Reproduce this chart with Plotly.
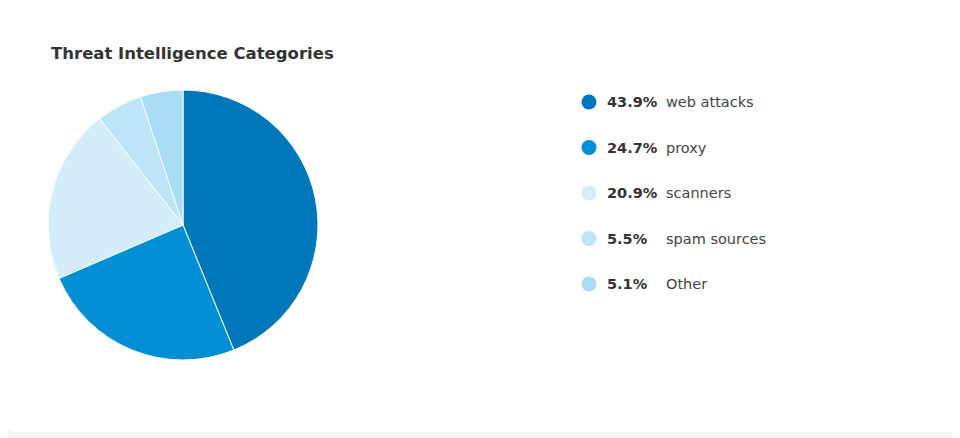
import plotly.graph_objects as go

labels = ["web attacks", "proxy", "scanners", "spam sources", "Other"]
values = [43.9, 24.7, 20.9, 5.5, 5.1]
colors = ["#0077b8", "#008fd5", "#d3edfa", "#bde5f7", "#a9dcf5"]

OFF = 8  # page body margin
W, H = 960 - OFF, 438 - OFF
FONT = "DejaVu Sans, Liberation Sans, Arial"
fig = go.Figure()
fig.add_trace(go.Pie(values=values, labels=labels, sort=False, direction="clockwise",
                     rotation=0, marker=dict(colors=colors, line=dict(color="white", width=1)),
                     textinfo="none", hoverinfo="label+percent",
                     domain=dict(x=[(48-OFF)/W, (318-OFF)/W], y=[(438-360)/H, (438-90)/H]), showlegend=False))

ys = [102 - OFF + 45.5*i for i in range(len(labels))]
fig.add_trace(go.Scatter(x=[589-OFF]*len(labels), y=ys, mode="markers",
                         marker=dict(size=15, color=colors), showlegend=False, hoverinfo="skip"))
for i, (lab, v) in enumerate(zip(labels, values)):
    fig.add_annotation(x=605-OFF, y=ys[i], xref="x", yref="y", text=f"<b>{v}%</b>", showarrow=False,
                       xanchor="left", font=dict(family=FONT, size=14.5, color="#333"))
    fig.add_annotation(x=664-OFF, y=ys[i], xref="x", yref="y", text=lab, showarrow=False,
                       xanchor="left", font=dict(family=FONT, size=14.5, color="#444"))

fig.add_annotation(x=49-OFF, y=53-OFF, xref="x", yref="y", text="<b>Threat Intelligence Categories</b>",
                   showarrow=False, xanchor="left", font=dict(family=FONT, size=16.5, color="#333"))

fig.add_shape(type="path", xref="x", yref="y", layer="below",
              path="M 8 -3 L 939 -3 Q 947 -3 947 5 L 947 416 Q 947 424 939 424 L 8 424 Q 0 424 0 416 L 0 5 Q 0 -3 8 -3 Z",
              fillcolor="white", line=dict(width=0))

fig.update_layout(width=W, height=H, margin=dict(l=0, r=0, t=0, b=0),
                  paper_bgcolor="#f4f4f4", plot_bgcolor="rgba(0,0,0,0)",
                  xaxis=dict(range=[0, W], visible=False, fixedrange=True),
                  yaxis=dict(range=[H, 0], visible=False, fixedrange=True))
fig.write_html("out.html")
